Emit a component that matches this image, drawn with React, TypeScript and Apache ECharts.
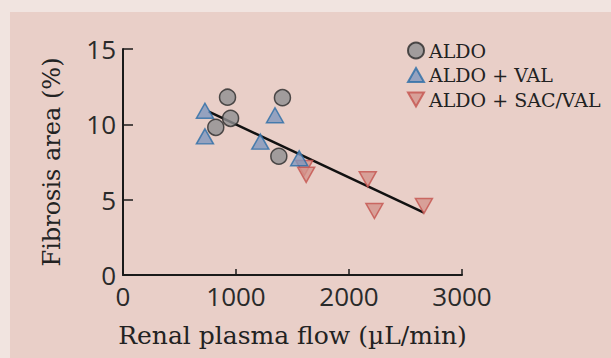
import React, { useEffect, useRef } from "react";
import * as echarts from "echarts";

const aldo: [number, number][] = [
  [925, 11.8],
  [952, 10.4],
  [821, 9.8],
  [1411, 11.77],
  [1379, 7.88],
];
const aldoVal: [number, number][] = [
  [725, 10.9],
  [725, 9.2],
  [1215, 8.85],
  [1345, 10.6],
  [1559, 7.75],
];
const aldoSacVal: [number, number][] = [
  [1604, 7.1],
  [1621, 6.65],
  [2166, 6.35],
  [2225, 4.25],
  [2663, 4.58],
];
const regression: [number, number][] = [
  [759, 10.84],
  [2663, 4.14],
];
const xTicks = [0, 1000, 2000, 3000];
const yTicks = [0, 5, 10, 15];
const seriesNames = ["ALDO", "ALDO + VAL", "ALDO + SAC/VAL"];

const serif = "'DejaVu Serif', 'Liberation Serif', serif";
const sans = "'Open Sans', 'Noto Sans', sans-serif";
const downTri = "path://M0,0L20,0L10,17.5Z";
const upTri = "path://M10,0L20,17.5L0,17.5Z";

export default function App() {
  const ref = useRef<HTMLDivElement>(null);
  useEffect(() => {
    if (!ref.current) return;
    const chart = echarts.init(ref.current, undefined, { renderer: "svg" });
    chart.setOption({
      animation: false,
      backgroundColor: "#f1e4e0",
      graphic: [
        {
          type: "rect",
          z: -10,
          shape: { x: 10, y: 12, width: 620, height: 360 },
          style: { fill: "#e9cfc8" },
        },
      ],
      grid: { left: 123, right: 149, top: 49, bottom: 83, containLabel: false },
      legend: {
        orient: "vertical",
        left: 402,
        top: 36,
        itemWidth: 16,
        itemHeight: 16,
        itemGap: 5.5,
        data: [
          { name: seriesNames[0], icon: "circle" },
          { name: seriesNames[1], icon: upTri },
          { name: seriesNames[2], icon: downTri },
        ],
        textStyle: { fontFamily: serif, fontSize: 19, color: "#222", padding: [0, 0, 0, 0] },
      },
      xAxis: {
        type: "value",
        min: 0,
        max: 3000,
        interval: 1000,
        name: "Renal plasma flow (µL/min)",
        nameLocation: "middle",
        nameGap: 48,
        nameTextStyle: { fontFamily: serif, fontSize: 25, color: "#222" },
        axisLine: { show: true, onZero: false, lineStyle: { color: "#1a1a1a", width: 2 } },
        axisTick: { show: true, inside: true, length: 6, lineStyle: { color: "#1a1a1a", width: 1.5 } },
        axisLabel: {
          fontFamily: sans,
          fontSize: 26,
          color: "#2a2a2a",
          margin: 8,
          formatter: (v: number) => (xTicks.includes(v) ? String(v) : ""),
        },
        splitLine: { show: false },
      },
      yAxis: {
        type: "value",
        min: 0,
        max: 15,
        interval: 5,
        name: "Fibrosis area (%)",
        nameLocation: "middle",
        nameGap: 59,
        nameTextStyle: { fontFamily: serif, fontSize: 24, color: "#222" },
        axisLine: { show: true, onZero: false, lineStyle: { color: "#1a1a1a", width: 2 } },
        axisTick: { show: true, inside: true, length: 10, lineStyle: { color: "#1a1a1a", width: 1.5 } },
        axisLabel: {
          fontFamily: sans,
          fontSize: 26,
          color: "#2a2a2a",
          margin: 7,
          formatter: (v: number) => (yTicks.includes(v) ? String(v) : ""),
        },
        splitLine: { show: false },
      },
      series: [
        {
          name: "regression",
          type: "line",
          data: regression,
          symbol: "none",
          lineStyle: { color: "#111", width: 2.5 },
          z: 1,
          silent: true,
        },
        {
          name: seriesNames[2],
          type: "scatter",
          data: aldoSacVal,
          symbol: downTri,
          symbolSize: [17, 15],
          itemStyle: { color: "#d3948c", borderColor: "#c4524e", borderWidth: 1.5 },
          z: 3,
        },
        {
          name: seriesNames[1],
          type: "scatter",
          data: aldoVal,
          symbol: upTri,
          symbolSize: [17, 15],
          itemStyle: { color: "#7f96bd", borderColor: "#2a6da6", borderWidth: 1.5 },
          z: 4,
        },
        {
          name: seriesNames[0],
          type: "scatter",
          data: aldo,
          symbol: "circle",
          symbolSize: 16,
          itemStyle: { color: "#8e8f91", borderColor: "#2a2a2a", borderWidth: 1.5 },
          z: 5,
        },
      ],
    });
    return () => chart.dispose();
  }, []);
  return <div ref={ref} style={{ width: 611, height: 358, position: "absolute", left: 0, top: 0 }} />;
}
